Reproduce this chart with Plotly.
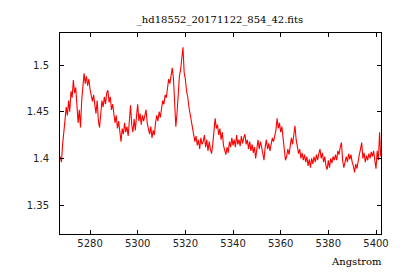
import plotly.graph_objects as go

# Spectrum: flux sampled every 0.5 Angstrom starting at 5267.5
wave_start = 5267.5
wave_step = 0.5
flux = [
    1.402, 1.396, 1.415, 1.432, 1.441, 1.455, 1.446, 1.462, 1.450, 1.472,
    1.465, 1.484, 1.470, 1.476, 1.458, 1.438, 1.452, 1.433, 1.462, 1.478,
    1.491, 1.480, 1.488, 1.478, 1.485, 1.474, 1.466, 1.461, 1.468, 1.458,
    1.448, 1.462, 1.440, 1.433, 1.452, 1.462, 1.455, 1.466, 1.458, 1.470,
    1.473, 1.460, 1.466, 1.452, 1.458, 1.445, 1.438, 1.446, 1.432, 1.440,
    1.425, 1.418, 1.432, 1.426, 1.438, 1.428, 1.434, 1.424, 1.440, 1.457,
    1.436, 1.428, 1.442, 1.430, 1.445, 1.458, 1.440, 1.448, 1.436, 1.446,
    1.440, 1.448, 1.452, 1.438, 1.432, 1.426, 1.434, 1.422, 1.430, 1.425,
    1.438, 1.446, 1.440, 1.450, 1.444, 1.452, 1.462, 1.458, 1.468, 1.465,
    1.478, 1.485, 1.480, 1.492, 1.497, 1.486, 1.455, 1.434, 1.448, 1.470,
    1.488, 1.495, 1.505, 1.519, 1.492, 1.485, 1.472, 1.466, 1.455, 1.448,
    1.442, 1.432, 1.428, 1.418, 1.424, 1.414, 1.420, 1.410, 1.422, 1.415,
    1.418, 1.425, 1.412, 1.420, 1.408, 1.418, 1.410, 1.405, 1.415, 1.428,
    1.443, 1.432, 1.436, 1.425, 1.432, 1.420, 1.428, 1.414, 1.408, 1.404,
    1.412, 1.406, 1.418, 1.412, 1.422, 1.414, 1.420, 1.412, 1.425, 1.415,
    1.420, 1.413, 1.424, 1.416, 1.422, 1.426, 1.415, 1.420, 1.410, 1.418,
    1.408, 1.415, 1.406, 1.412, 1.400, 1.414, 1.420, 1.410, 1.418, 1.412,
    1.405, 1.398, 1.412, 1.420, 1.410, 1.416, 1.408, 1.418, 1.422, 1.418,
    1.424, 1.430, 1.443, 1.432, 1.438, 1.428, 1.434, 1.420, 1.405, 1.398,
    1.402, 1.410, 1.404, 1.412, 1.422, 1.415, 1.428, 1.435, 1.420, 1.412,
    1.405, 1.410, 1.400, 1.406, 1.398, 1.404, 1.396, 1.402, 1.392, 1.399,
    1.390, 1.400, 1.394, 1.402, 1.396, 1.404, 1.398, 1.405, 1.410, 1.400,
    1.406, 1.396, 1.402, 1.392, 1.388, 1.398, 1.390, 1.400, 1.395, 1.402,
    1.398, 1.404, 1.398, 1.408, 1.404, 1.412, 1.417, 1.398, 1.390, 1.396,
    1.402, 1.396, 1.405, 1.399, 1.404, 1.396, 1.392, 1.385, 1.394, 1.389,
    1.398, 1.404, 1.410, 1.417, 1.400, 1.406, 1.396, 1.403, 1.398, 1.405,
    1.400, 1.407, 1.402, 1.408, 1.398, 1.389, 1.408, 1.398, 1.428, 1.402,
]
wavelength = [wave_start + wave_step * i for i in range(len(flux))]

x_ticks = [5280, 5300, 5320, 5340, 5360, 5380, 5400]
y_ticks = [1.35, 1.4, 1.45, 1.5]
title_text = "_hd18552_20171122_854_42.fits"
x_label = "Angstrom"

fig = go.Figure()
fig.add_trace(go.Scatter(
    x=wavelength, y=flux, mode="lines",
    line=dict(color="#ff0000", width=1.1),
    showlegend=False, hoverinfo="skip",
))

axis_common = dict(
    showline=True, linecolor="black", linewidth=1, mirror="allticks",
    ticks="inside", ticklen=4, tickcolor="black", tickwidth=1,
    showgrid=False, zeroline=False,
    tickfont=dict(family="DejaVu Sans", size=10, color="#222222"),
)

fig.update_layout(
    width=400, height=280,
    margin=dict(l=60, r=19, t=33, b=46),
    paper_bgcolor="white", plot_bgcolor="white",
    title=dict(text=title_text, x=0.55, xanchor="center", y=0.932, yanchor="middle",
               font=dict(family="DejaVu Serif", size=10, color="black")),
    xaxis=dict(range=[5267.4, 5402.1], tickvals=x_ticks,
               ticktext=[str(v) for v in x_ticks], **axis_common),
    yaxis=dict(range=[1.319, 1.5343], tickvals=y_ticks,
               ticktext=[str(v) for v in y_ticks], ticklabelstandoff=8, **axis_common),
    annotations=[dict(text=x_label, xref="paper", yref="paper", x=1.01, y=-0.1,
                      xanchor="right", yanchor="top", showarrow=False,
                      font=dict(family="DejaVu Serif", size=10, color="black"))],
)

fig.write_html("out.html", config={"displayModeBar": False},
               post_script="document.body.style.margin='0';")
